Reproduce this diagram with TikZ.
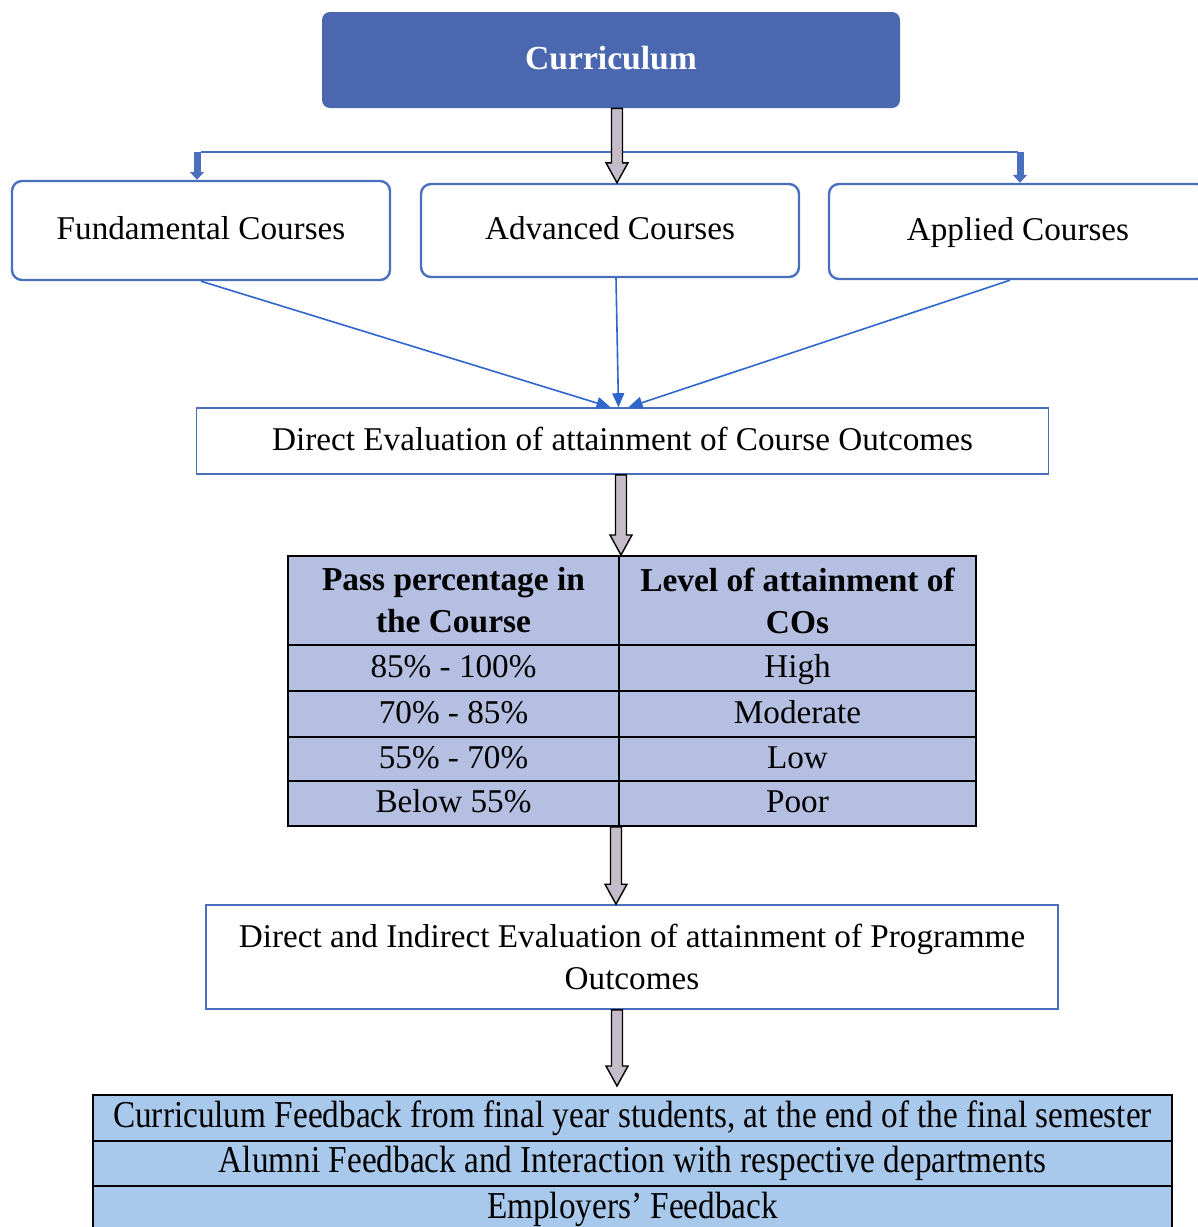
\documentclass[tikz,border=0pt]{standalone}
\usepackage{fontspec}
\setmainfont{Liberation Serif}
\newfontfamily\condfont[FakeStretch=0.875]{Liberation Serif}
\usetikzlibrary{arrows.meta,calc}

\definecolor{currblue}{HTML}{4A67B0}
\definecolor{boxblue}{HTML}{4A6FBF}
\definecolor{linkblue}{HTML}{2F66CC}
\definecolor{tablefill}{HTML}{B4BFE2}
\definecolor{feedfill}{HTML}{A9C9EC}
\definecolor{arrowgray}{HTML}{C4BCC8}

\tikzset{
  txt/.style={font=\fontsize{16.6}{21}\selectfont, align=center, inner sep=0pt,
    text height=12.5pt, text depth=3.5pt},
  twolines/.style={text height=, text depth=},
  coursebox/.style={txt, draw=boxblue, line width=1.2pt, rounded corners=5pt,
    minimum width=189pt},
  evalbox/.style={txt, draw=boxblue, line width=0.8pt, minimum width=426pt},
  cell/.style={txt, draw=black, line width=1pt, fill=tablefill},
  headcell/.style={cell, twolines, minimum height=44.5pt,
    font=\bfseries\fontsize{16.7}{21}\selectfont},
  feedcell/.style={draw=black, line width=1pt, fill=feedfill, inner sep=0pt,
    minimum width=539.5pt, minimum height=23pt, text height=12.5pt, text depth=3.5pt,
    font=\condfont\fontsize{19}{22}\selectfont},
  link/.style={draw=linkblue, line width=0.8pt, -{Triangle[length=7pt,width=6pt]}},
  sidearrow/.style={draw=boxblue, line width=3.5pt, -{Triangle[length=4pt,width=7pt]}},
  bus/.style={draw=boxblue, line width=1.2pt},
  hollow/.style={fill=arrowgray, draw=black, line width=0.7pt}
}

% block arrow: x of the first point, y of the second point
\newcommand{\hollowarrow}[2]{%
  \path let \p1=(#1), \p2=(#2) in
    [hollow] (\x1-2.75pt,\y1) -- (\x1+2.75pt,\y1) -- (\x1+2.75pt,\y2+10pt)
    -- (\x1+5.5pt,\y2+10pt) -- (\x1,\y2) -- (\x1-5.5pt,\y2+10pt)
    -- (\x1-2.75pt,\y2+10pt) -- cycle;}

\begin{document}
\begin{tikzpicture}[x=0.5pt, y=-0.5pt]
    \useasboundingbox (0,0) rectangle (1198,1227);

    \node[txt, fill=currblue, rounded corners=4pt, minimum width=289pt, minimum height=48pt,
      text=white, font=\bfseries\fontsize{16.8}{20}\selectfont] (curr) at (611,60) {Curriculum};

    \node[coursebox, minimum height=49.5pt] (fund) at (201,230.5) {Fundamental Courses};
    \node[coursebox, minimum height=46.5pt] (adv)  at (610,230.5) {Advanced Courses};
    \node[coursebox, minimum height=47.5pt] (appl) at (1018,231.5) {Applied Courses};

    \node[evalbox, minimum height=33pt] (coeval) at (622.5,441)
      {Direct Evaluation of attainment of Course Outcomes};

    \node[headcell, minimum width=165.5pt] (h1) at (453.5,600.5) {Pass percentage in\\the Course};
    \node[headcell, minimum width=178.5pt] (h2) at (797.5,600.5) {Level of attainment of\\COs};
    \node[cell, minimum width=165.5pt, minimum height=23pt] (a1) at (453.5,668)   {85\% - 100\%};
    \node[cell, minimum width=178.5pt, minimum height=23pt] (b1) at (797.5,668)   {High};
    \node[cell, minimum width=165.5pt, minimum height=23pt] (a2) at (453.5,714)   {70\% - 85\%};
    \node[cell, minimum width=178.5pt, minimum height=23pt] (b2) at (797.5,714)   {Moderate};
    \node[cell, minimum width=165.5pt, minimum height=22pt] (a3) at (453.5,759)   {55\% - 70\%};
    \node[cell, minimum width=178.5pt, minimum height=22pt] (b3) at (797.5,759)   {Low};
    \node[cell, minimum width=165.5pt, minimum height=22.5pt] (a4) at (453.5,803.5) {Below 55\%};
    \node[cell, minimum width=178.5pt, minimum height=22.5pt] (b4) at (797.5,803.5) {Poor};

    \node[evalbox, twolines, minimum height=52pt] (poeval) at (632,957)
      {Direct and Indirect Evaluation of attainment of Programme\\Outcomes};

    \node[feedcell] (fb1) at (632.5,1118)
      {Curriculum Feedback from final year students, at the end of the final semester};
    \node[feedcell, minimum height=22.5pt] (fb2) at (632.5,1163.5)
      {Alumni Feedback and Interaction with respective departments};
    \node[feedcell] (fb3) at (632.5,1209) {Employers’ Feedback};

    % curriculum split
    \coordinate (split) at (617,152);
    \draw[bus] (fund.north |- split) -- (appl.north |- split);
    \draw[sidearrow] ([xshift=-2pt]fund.north |- split) -- ([xshift=-2pt]fund.north);
    \draw[sidearrow] ([xshift=1pt]appl.north |- split) -- ([xshift=1pt]appl.north);
    \hollowarrow{[xshift=3pt]curr.south}{adv.north}

    % courses to CO evaluation
    \draw[link] (fund.south) -- ([xshift=-6pt]coeval.north);
    \draw[link] ([xshift=3pt]adv.south) -- ([xshift=-2pt]coeval.north);
    \draw[link] ([xshift=-4pt]appl.south) -- ([xshift=3pt]coeval.north);

    \hollowarrow{[xshift=-0.75pt]coeval.south}{h1.north}
    \hollowarrow{[xshift=-1pt]b4.south west}{poeval.north}
    \hollowarrow{[xshift=-7.5pt]poeval.south}{[yshift=4pt]fb1.north}
  \end{tikzpicture}
\end{document}
